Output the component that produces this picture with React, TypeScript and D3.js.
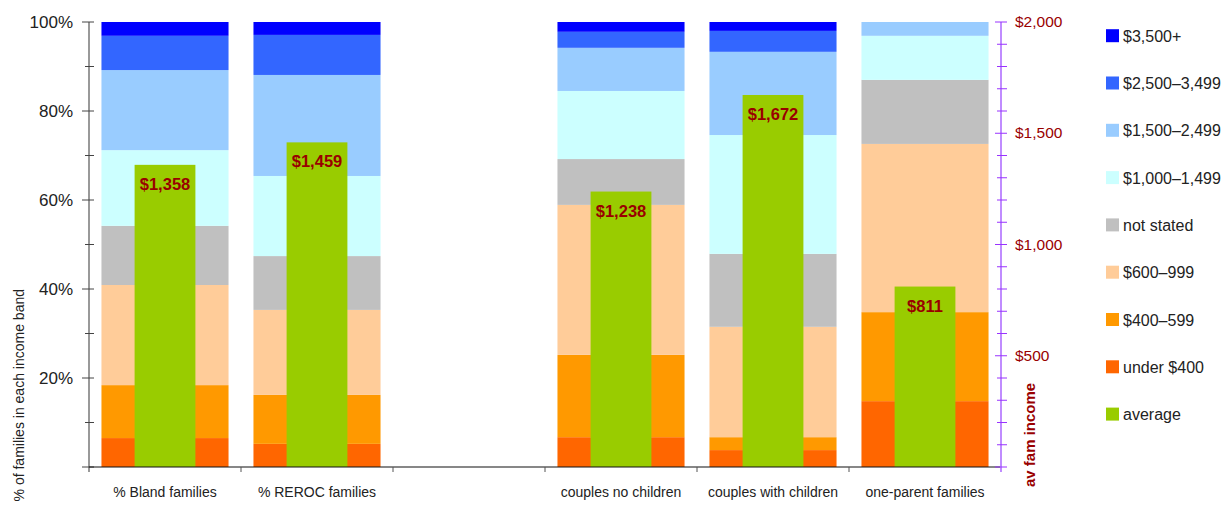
import React from "react";
import * as d3 from "d3";

const categories = ["% Bland families", "% REROC families", "", "couples no children", "couples with children", "one-parent families"];
const seriesNames = ["under $400", "$400–599", "$600–999", "not stated", "$1,000–1,499", "$1,500–2,499", "$2,500–3,499", "$3,500+"];
const seriesColors = ["#FF6600", "#FF9900", "#FFCC99", "#C0C0C0", "#CCFFFF", "#99CCFF", "#3366FF", "#0000FF"];
const under400 = [6.5, 5.2, null, 6.7, 3.8, 14.8];
const b400 = [11.9, 11.0, null, 18.5, 2.9, 20.0];
const b600 = [22.5, 19.1, null, 33.7, 24.8, 37.8];
const notStated = [13.3, 12.1, null, 10.3, 16.4, 14.4];
const b1000 = [17.0, 18.0, null, 15.3, 26.7, 9.9];
const b1500 = [18.0, 22.7, null, 9.7, 18.7, 3.1];
const b2500 = [7.7, 9.0, null, 3.6, 4.7, 0];
const b3500 = [3.1, 2.9, null, 2.2, 2.0, 0];
const average = [1358, 1459, null, 1238, 1672, 811];
const averageColor = "#99CC00";
const leftTicks = [0, 10, 20, 30, 40, 50, 60, 70, 80, 90, 100];
const rightTicks = d3.range(0, 2001, 100);

const seriesValues = [under400, b400, b600, notStated, b1000, b1500, b2500, b3500];

export default function App() {
  const W = 1229, H = 505;
  const x0 = 89, x1 = 1001, yTop = 22, yBot = 467;
  const x = d3.scaleBand<number>().domain(categories.map((_, i) => i)).range([x0, x1]).padding(0);
  const yL = d3.scaleLinear().domain([0, 100]).range([yBot, yTop]);
  const yR = d3.scaleLinear().domain([0, 2000]).range([yBot, yTop]);
  const bw = x.bandwidth();
  const barW = bw * 0.836;
  const greenW = bw * 0.4;

  const rows = categories.map((c, i) => {
    const r: any = { i };
    seriesNames.forEach((s, k) => (r[s] = seriesValues[k][i] ?? 0));
    return r;
  });
  const stack = d3.stack<any>().keys(seriesNames)(rows);

  const darkRed = "#990000";
  const purple = "#9933FF";
  const font = "'Liberation Sans', Arial, Helvetica, sans-serif";

  return (
    <svg width={W} height={H} style={{ position: "absolute", left: 0, top: 0, fontFamily: font }}>
      <rect x={0} y={0} width={W} height={H} fill="#fff" />
      {stack.map((layer, k) => (
        <g key={k} fill={seriesColors[k]}>
          {layer.map((d, i) =>
            average[i] == null || d[1] - d[0] <= 0 ? null : (
              <rect key={i} x={(x(i) as number) + (bw - barW) / 2} width={barW}
                y={yL(d[1])} height={yL(d[0]) - yL(d[1])} />
            )
          )}
        </g>
      ))}
      {average.map((v, i) =>
        v == null ? null : (
          <g key={i}>
            <rect x={(x(i) as number) + (bw - greenW) / 2} width={greenW} y={yR(v)} height={yBot - yR(v)} fill={averageColor} />
            <text x={(x(i) as number) + bw / 2} y={yR(v) + 25} textAnchor="middle" fontSize={16.5} fontWeight="bold" fill={darkRed}>
              {d3.format("$,")(v)}
            </text>
          </g>
        )
      )}
      {/* left axis */}
      <line x1={x0} x2={x0} y1={yTop} y2={yBot + 5} stroke="#555" strokeWidth={1.2} />
      {leftTicks.map((t) => (
        <g key={t}>
          <line x1={t % 20 === 0 ? x0 - 7 : x0 - 4} x2={x0 + 5} y1={yL(t)} y2={yL(t)} stroke="#444" strokeWidth={1} />
          {t % 20 === 0 && t > 0 ? (
            <text x={x0 - 16} y={yL(t) + 6} textAnchor="end" fontSize={17} fill="#222">{t}%</text>
          ) : null}
        </g>
      ))}
      <text transform={`translate(24,289) rotate(-90)`} textAnchor="end" fontSize={14} fill="#222">% of families in each income band</text>
      {/* bottom axis */}
      <line x1={x0} x2={x1} y1={yBot} y2={yBot} stroke="#111" strokeWidth={1.2} />
      {categories.map((c, i) => (
        <g key={i}>
          {i > 0 ? <line x1={x(i) as number} x2={x(i) as number} y1={yBot} y2={yBot + 5} stroke="#555" /> : null}
          <text x={(x(i) as number) + bw / 2} y={497} textAnchor="middle" fontSize={14} fill="#222">{c}</text>
        </g>
      ))}
      {/* right axis */}
      <line x1={x1} x2={x1} y1={yTop} y2={yBot + 5} stroke="#C08CFF" strokeWidth={2} />
      {rightTicks.map((t) => (
        <g key={t}>
          <line x1={t % 500 === 0 ? x1 - 6 : x1 - 4} x2={x1 + 6} y1={yR(t)} y2={yR(t)} stroke={purple} strokeWidth={1} />
          {t % 500 === 0 && t > 0 ? (
            <text x={x1 + 14} y={yR(t) + 5} fontSize={15.5} fill={darkRed}>{d3.format("$,")(t)}</text>
          ) : null}
        </g>
      ))}
      <text transform={`translate(1035,487) rotate(-90)`} fontSize={15} fontWeight="bold" fill={darkRed}>av fam income</text>
      {/* legend */}
      {[...seriesNames].reverse().concat(["average"]).map((s, k) => {
        const color = s === "average" ? averageColor : seriesColors[seriesNames.indexOf(s)];
        const cy = 35.7 + k * 47.3;
        return (
          <g key={s}>
            <rect x={1106} y={cy - 6.5} width={13} height={13} fill={color} />
            <text x={1123} y={cy + 6} fontSize={16} fill="#222">{s}</text>
          </g>
        );
      })}
    </svg>
  );
}
